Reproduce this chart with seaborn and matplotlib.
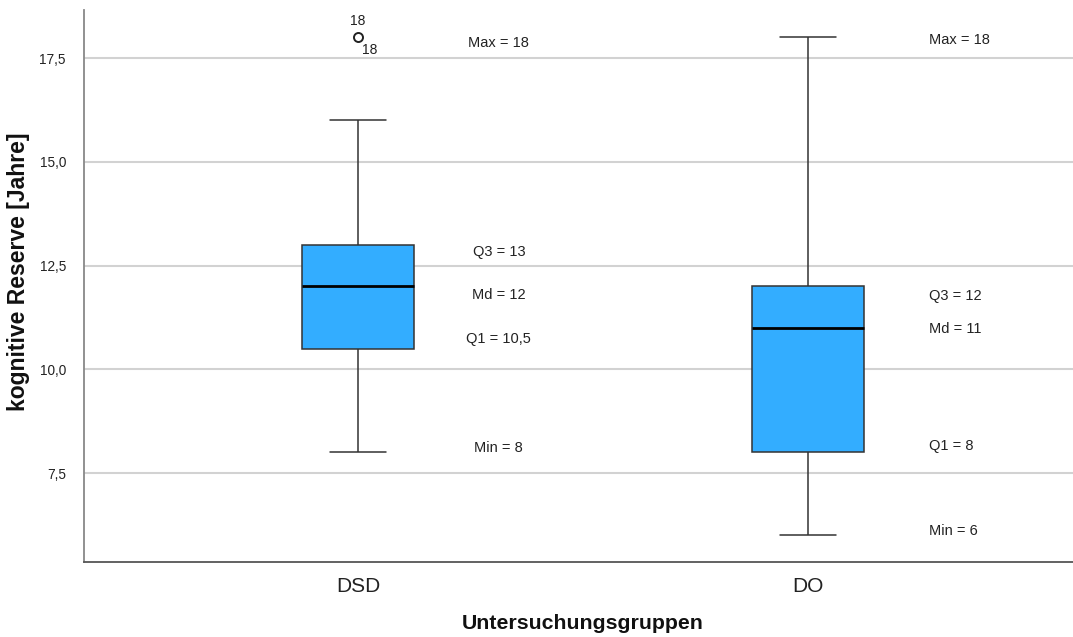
import numpy as np
import pandas as pd
import matplotlib
matplotlib.use("Agg")
import matplotlib.pyplot as plt
import seaborn as sns

# ---- data ----
groups = ["DSD", "DO"]
dsd_values = [8, 9, 10.5, 11, 12, 12.5, 13, 16, 18]
do_values = [6, 7, 8, 10, 11, 11.5, 12, 15, 18]
y_ticks = [7.5, 10.0, 12.5, 15.0, 17.5]
y_tick_labels = ["7,5", "10,0", "12,5", "15,0", "17,5"]

dsd_labels = ["Max = 18", "Q3 = 13", "Md = 12", "Q1 = 10,5", "Min = 8"]
dsd_label_y = [17.86, 12.83, 11.79, 10.73, 8.1]
do_labels = ["Max = 18", "Q3 = 12", "Md = 11", "Q1 = 8", "Min = 6"]
do_label_y = [17.93, 11.77, 10.97, 8.15, 6.1]
outlier_value = 18
outlier_case = "18"

df = pd.DataFrame({
    "Untersuchungsgruppen": ["DSD"] * len(dsd_values) + ["DO"] * len(do_values),
    "kognitive Reserve [Jahre]": dsd_values + do_values,
})

sns.set_theme(style="white")
plt.rcParams["font.family"] = ["Liberation Sans", "DejaVu Sans"]

fig = plt.figure(figsize=(10.73, 6.37), dpi=100)
ax = fig.add_axes([84 / 1073, 1 - 562 / 637, 1 - 84 / 1073, (562 - 10) / 637])

box_color = "#33adff"
edge = "#333333"
sns.boxplot(
    data=df, x="Untersuchungsgruppen", y="kognitive Reserve [Jahre]",
    order=groups, color=box_color, saturation=1, width=0.25, ax=ax,
    linewidth=1.1, linecolor=edge,
    medianprops=dict(color="black", linewidth=2),
    flierprops=dict(marker="o", markersize=6.5, markerfacecolor="white",
                    markeredgecolor="#222222", markeredgewidth=1.4),
    zorder=3,
)

ax.set_xlim(-0.609, 1.589)
ax.set_ylim(5.36, 18.66)
ax.set_yticks(y_ticks)
ax.set_yticklabels(y_tick_labels, fontsize=9.8, color="#222222")
ax.tick_params(axis="y", direction="in", length=3, width=1, color="#888888", pad=13)
ax.tick_params(axis="x", length=0, pad=11, labelsize=15, labelcolor="#222222")
ax.yaxis.grid(True, color="#d2d2d2", linewidth=1.5, zorder=0)
ax.set_axisbelow(True)

for s in ["top", "right"]:
    ax.spines[s].set_visible(False)
ax.spines["left"].set_color("#888888")
ax.spines["left"].set_linewidth(1.3)
ax.spines["bottom"].set_color("#555555")
ax.spines["bottom"].set_linewidth(1.3)

ax.set_xlabel("Untersuchungsgruppen", fontsize=15.3, fontweight="bold", color="#111111")
ax.set_ylabel("kognitive Reserve [Jahre]", fontsize=16.5, fontweight="bold", color="#111111")
ax.xaxis.set_label_coords(0.5045, -0.094)
ax.yaxis.set_label_coords(-0.0546, 0.525)

for lab, yv in zip(dsd_labels, dsd_label_y):
    ax.text(0.313, yv, lab, ha="center", va="center", fontsize=10.5, color="#222222")
for lab, yv in zip(do_labels, do_label_y):
    ax.text(1.269, yv, lab, ha="left", va="center", fontsize=10.5, color="#222222")

# outlier case labels
ax.text(0, outlier_value + 0.4, outlier_case, ha="center", va="center", fontsize=10, color="#222222")
ax.text(0.025, outlier_value - 0.3, outlier_case, ha="center", va="center", fontsize=10, color="#222222")

fig.savefig("out.png", dpi=100)
